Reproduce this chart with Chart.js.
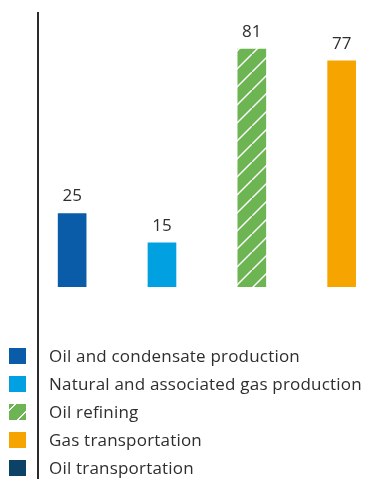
<!DOCTYPE html>
<html lang="en">
<head>
<meta charset="UTF-8">
<title>Segments</title>
<script src="https://cdn.jsdelivr.net/npm/chart.js@4.4.0/dist/chart.umd.min.js"></script>
<style>
    *{margin:0;padding:0;box-sizing:border-box;}
    body{width:365px;height:479px;background:#fff;position:relative;overflow:hidden;
        font-family:"Open Sans",sans-serif;color:#2e2e2e;}
    #box{position:absolute;left:0;top:0;width:365px;height:300px;}
    #axisLine{position:absolute;left:37px;top:12px;bottom:0;width:2px;background:#2b2b2b;}
    #legend{position:absolute;left:0;top:342px;list-style:none;}
    #legend li{display:flex;align-items:center;height:28px;}
    #legend .sw{width:17px;height:16px;margin-left:9px;margin-right:23px;}
    #legend span.txt{font-size:17px;line-height:28px;white-space:nowrap;letter-spacing:0.2px;}
</style>
</head>
<body>
<div id="box"><canvas id="mycanvas"></canvas></div>
<div id="axisLine"></div>
<ul id="legend"></ul>

<script>
// segments and their values
let categories = ["Oil and condensate production", "Natural and associated gas production",
    "Oil refining", "Gas transportation", "Oil transportation"];
let values = [25, 15, 81, 77, null];
let colors = ["#0A5CA8", "#00A0E1", "#6DB552", "#F6A500", "#0C4266"];
let hatched = [false, false, true, false, false];

// green with white diagonal stripes, one stripe per 18px tile
function stripes(color){
    var c = document.createElement("canvas");
    c.width = 18; c.height = 18;
    var g = c.getContext("2d");
    g.fillStyle = color;
    g.fillRect(0, 0, 18, 18);
    g.strokeStyle = "#fff";
    g.lineWidth = 1.4;
    g.beginPath();
    g.moveTo(-1, 19); g.lineTo(19, -1);
    g.stroke();
    return g.createPattern(c, "repeat");
}

let fills = colors.map(function(c, i){ return hatched[i] ? stripes(c) : c; });

// numbers above the bars
const valueLabels = {
    id: "valueLabels",
    afterDatasetsDraw(chart){
        var ctx = chart.ctx;
        var meta = chart.getDatasetMeta(0);
        ctx.save();
        ctx.font = "17px 'Open Sans', sans-serif";
        ctx.fillStyle = "#2e2e2e";
        ctx.textAlign = "center";
        ctx.textBaseline = "middle";
        meta.data.forEach(function(bar, i){
            if (values[i] == null) return;
            ctx.fillText(values[i], bar.x, bar.y - 17);
        });
        ctx.restore();
    }
};

new Chart(document.getElementById("mycanvas"), {
    type: "bar",
    plugins: [valueLabels],
    data: {
        datasets: [{
            data: values.map(function(v, i){ return {x: i, y: v}; }),
            backgroundColor: fills,
            barThickness: 28
        }]
    },
    options: {
        responsive: true,
        maintainAspectRatio: false,
        animation: false,
        layout: {padding: {left: 38, right: 0, top: 12, bottom: 13}},
        plugins: {legend: {display: false}, tooltip: {enabled: false}},
        scales: {
            x: {type: "linear", min: -0.38, max: 3.26, offset: false, display: false},
            y: {min: 0, max: 93.6, display: false}
        }
    }
});

// legend list
var lg = document.getElementById("legend");
categories.forEach(function(name, i){
    var li = document.createElement("li");
    var sw = document.createElement("span");
    sw.className = "sw";
    if (hatched[i]) {
        sw.style.background = "repeating-linear-gradient(-45deg," + colors[i] + " 0 5px,#fff 5px 6.5px," + colors[i] + " 6.5px 12.7px)";
    } else {
        sw.style.background = colors[i];
    }
    var t = document.createElement("span");
    t.className = "txt";
    t.textContent = name;
    li.appendChild(sw);
    li.appendChild(t);
    lg.appendChild(li);
});
</script>
</body>
</html>
